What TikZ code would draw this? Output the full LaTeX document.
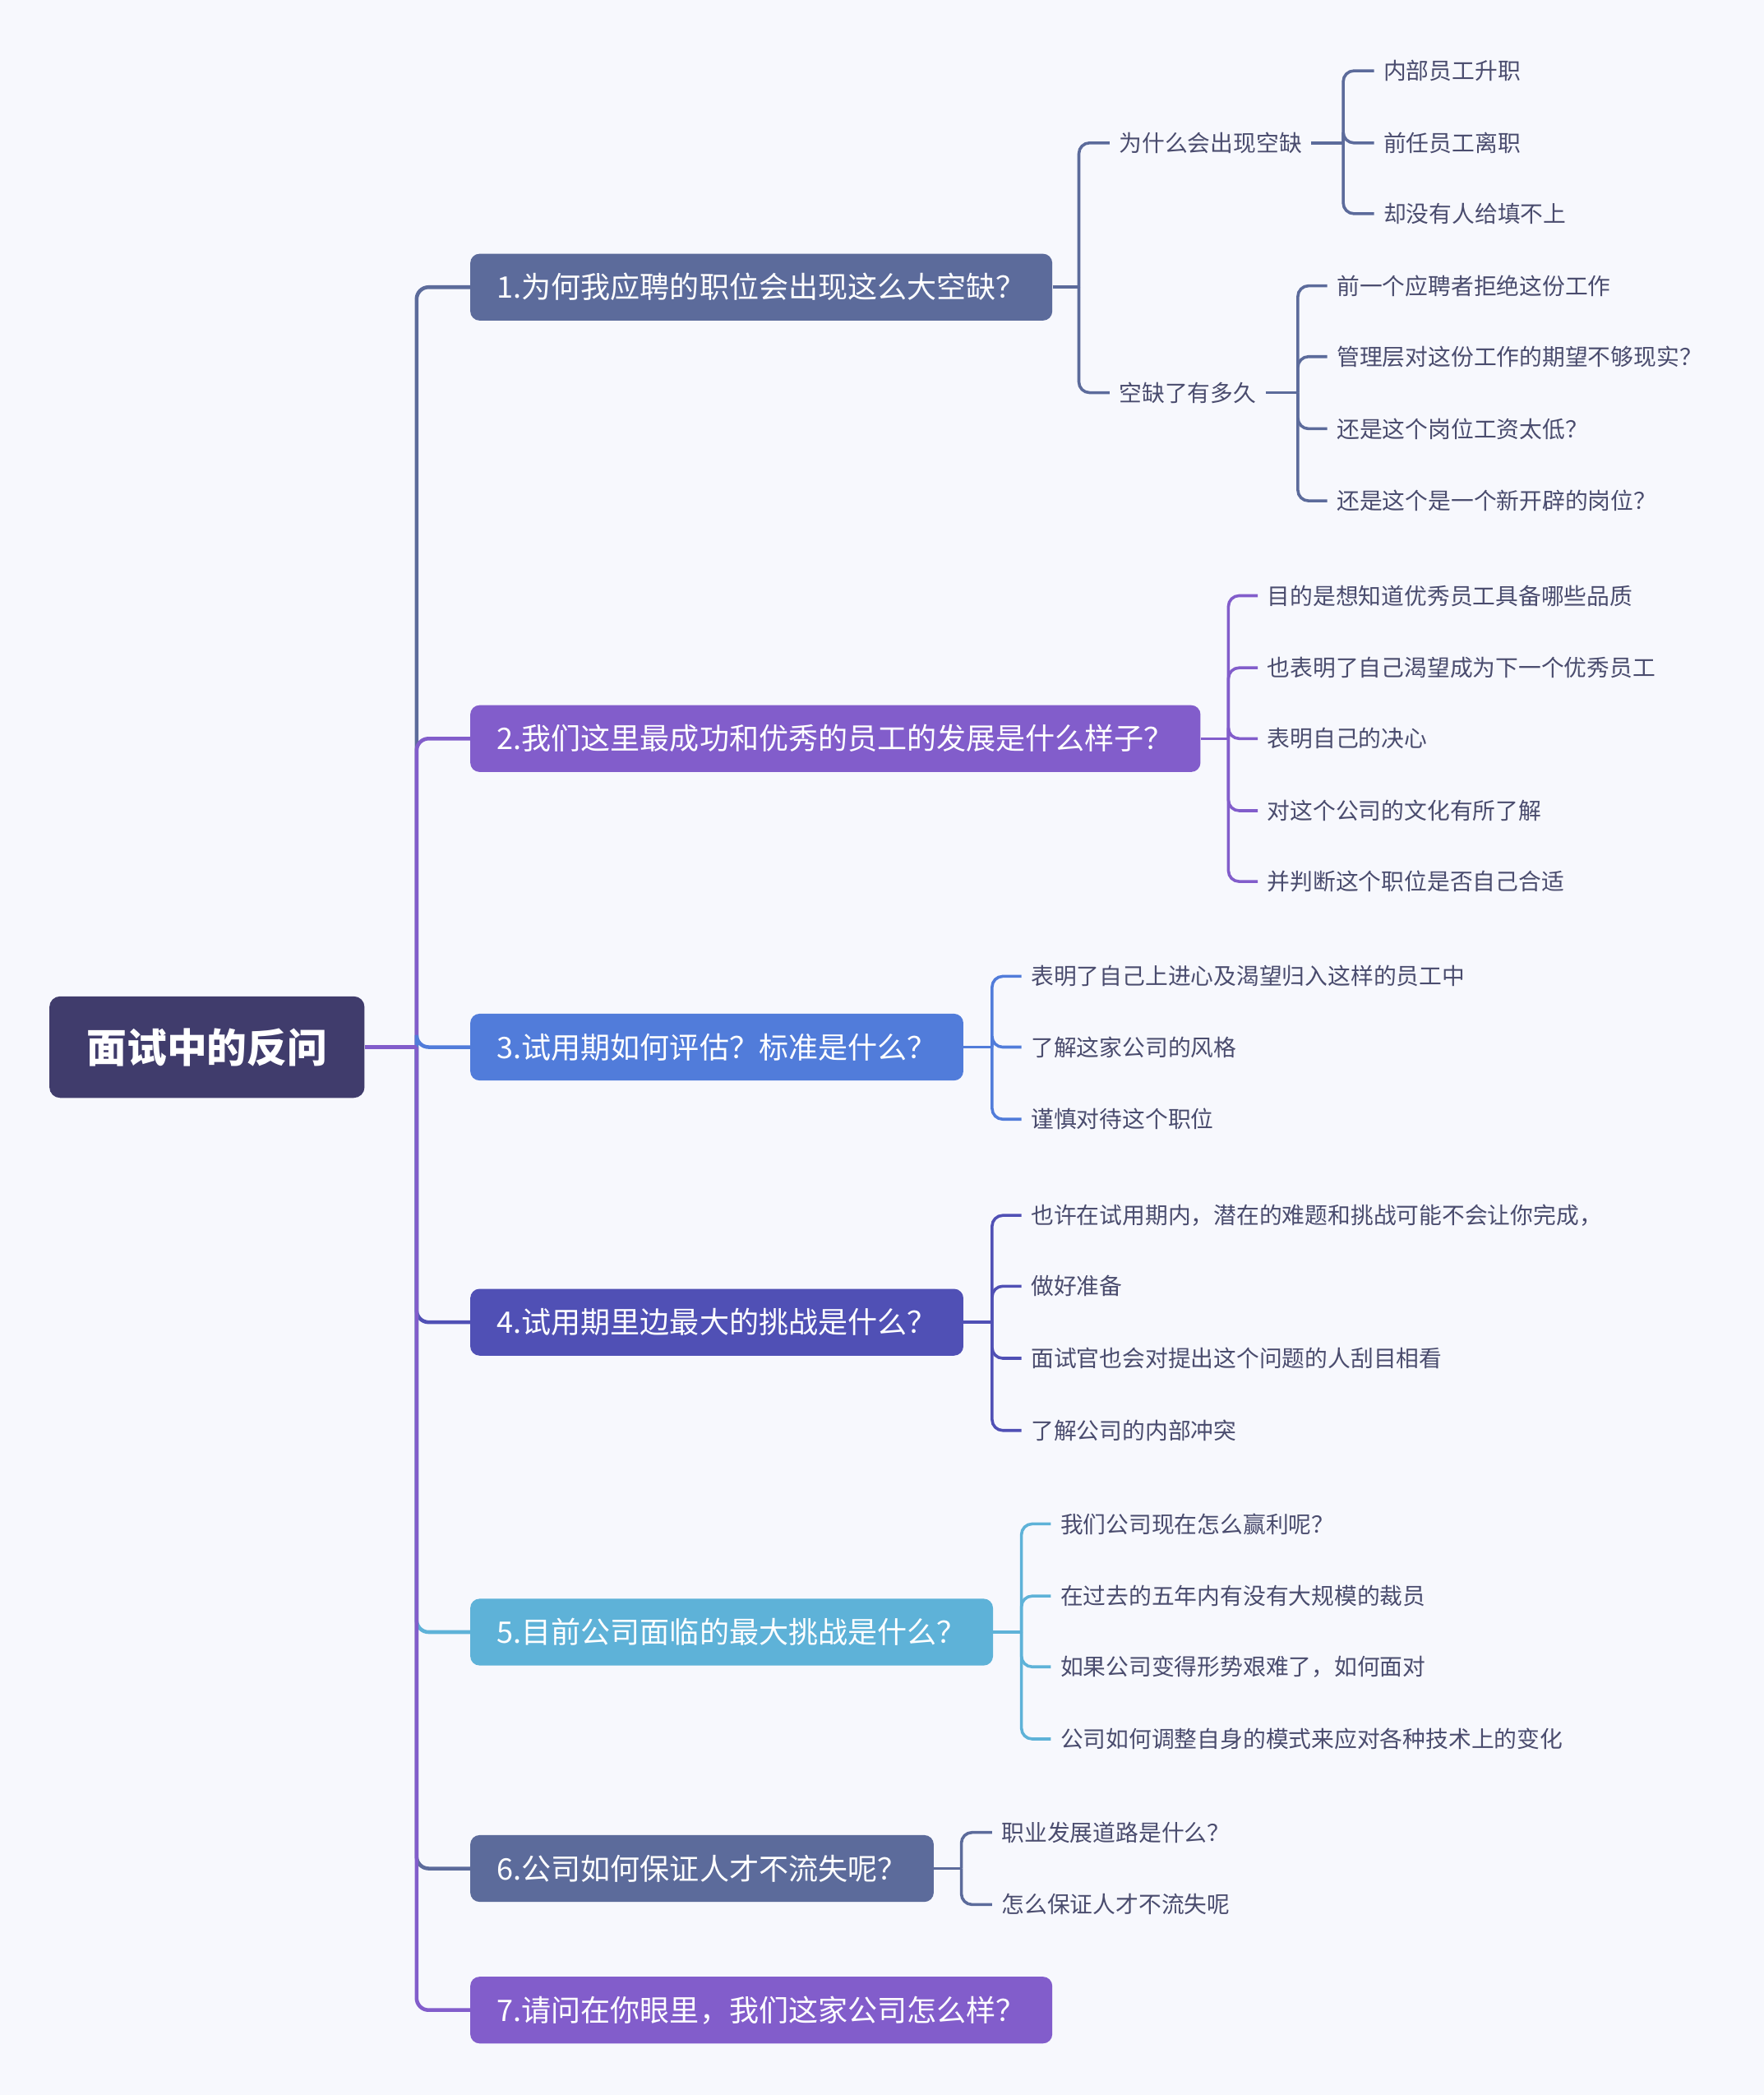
\documentclass[tikz,border=0pt]{standalone}
\usepackage{fontspec}
\newfontfamily\cjk{Noto Sans CJK SC}
\usetikzlibrary{positioning}
\definecolor{bgc}{HTML}{F7F8FD}
\definecolor{rootc}{HTML}{403C6C}
\definecolor{slatec}{HTML}{5C6B9B}
\definecolor{violetc}{HTML}{825DCB}
\definecolor{bluec}{HTML}{517CDA}
\definecolor{indigoc}{HTML}{5050B5}
\definecolor{cyanc}{HTML}{5EB2D8}
\definecolor{leafc}{HTML}{4A4C6E}
\tikzset{
    root/.style = {
        fill=rootc,
        text=white,
        rounded corners=8pt,
        minimum height=76pt,
        inner xsep=28pt,
        font=\cjk\bfseries\fontsize{30}{36}\selectfont
    },
    topic/.style = {
        rounded corners=7pt,
        text=white,
        minimum height=50pt,
        inner xsep=20pt,
        inner ysep=0pt,
        anchor=west,
        font=\cjk\fontsize{22.2}{26}\selectfont
    },
    leaf/.style = {
        text=leafc,
        inner xsep=7pt,
        inner ysep=2pt,
        anchor=west,
        font=\cjk\fontsize{17.1}{20}\selectfont
    },
    trunk/.style = {
        draw,
        line width=2.8pt,
        rounded corners=9pt
    },
    twig/.style = {
        draw,
        line width=2.2pt,
        rounded corners=8pt
    },
}
\begin{document}
\begin{tikzpicture}[x=1pt, y=-1pt]
    \useasboundingbox[fill=bgc] (0,0) rectangle (1321,1568.6);

    \node[root] (root) at (155,784) {面试中的反问};
    \coordinate (hub) at (312,784);

    \node[topic, fill=slatec] (q1) at (352,215) {1.为何我应聘的职位会出现这么大空缺？};
    \node[topic, fill=violetc] (q2) at (352,553) {2.我们这里最成功和优秀的员工的发展是什么样子？};
    \node[topic, fill=bluec] (q3) at (352,784) {3.试用期如何评估？标准是什么？};
    \node[topic, fill=indigoc] (q4) at (352,990) {4.试用期里边最大的挑战是什么？};
    \node[topic, fill=cyanc] (q5) at (352,1222) {5.目前公司面临的最大挑战是什么？};
    \node[topic, fill=slatec] (q6) at (352,1399) {6.公司如何保证人才不流失呢？};
    \node[topic, fill=violetc] (q7) at (352,1505) {7.请问在你眼里，我们这家公司怎么样？};

    % trunk
    \path[trunk, slatec] (hub) |- (q1.west);
    \path[trunk, violetc] (hub) |- (q2.west);
    \path[trunk, bluec] (hub) |- (q3.west);
    \path[trunk, indigoc] (hub) |- (q4.west);
    \path[trunk, cyanc] (hub) |- (q5.west);
    \path[trunk, slatec] (hub) |- (q6.west);
    \path[trunk, violetc] (hub) |- (q7.west);
    \path[trunk, violetc] (root.east) -- (hub);

    % 1
    \coordinate (j1) at (808,215);
    \node[leaf] (q1a) at (831,107) {为什么会出现空缺};
    \node[leaf] (q1b) at (831,294) {空缺了有多久};
    \path[twig, slatec] (q1.east) -- (j1);
    \path[twig, slatec] (j1) |- (q1a.west);
    \path[twig, slatec] (j1) |- (q1b.west);

    \coordinate (j1a) at (1006,107);
    \node[leaf] (q1a1) at (1029,53) {内部员工升职};
    \node[leaf] (q1a2) at (1029,107) {前任员工离职};
    \node[leaf] (q1a3) at (1029,160) {却没有人给填不上};
    \path[twig, slatec] (q1a.east) -- (j1a);
    \path[twig, slatec] (j1a) |- (q1a1.west);
    \path[twig, slatec] (j1a) |- (q1a2.west);
    \path[twig, slatec] (j1a) |- (q1a3.west);

    \coordinate (j1b) at (972,294);
    \node[leaf] (q1b1) at (994,214) {前一个应聘者拒绝这份工作};
    \node[leaf] (q1b2) at (994,267) {管理层对这份工作的期望不够现实？};
    \node[leaf] (q1b3) at (994,321) {还是这个岗位工资太低？};
    \node[leaf] (q1b4) at (994,375) {还是这个是一个新开辟的岗位？};
    \path[twig, slatec] (q1b.east) -- (j1b);
    \path[twig, slatec] (j1b) |- (q1b1.west);
    \path[twig, slatec] (j1b) |- (q1b2.west);
    \path[twig, slatec] (j1b) |- (q1b3.west);
    \path[twig, slatec] (j1b) |- (q1b4.west);

    % 2
    \coordinate (j2) at (920,553);
    \node[leaf] (q2a) at (942,446) {目的是想知道优秀员工具备哪些品质};
    \node[leaf] (q2b) at (942,500) {也表明了自己渴望成为下一个优秀员工};
    \node[leaf] (q2c) at (942,553) {表明自己的决心};
    \node[leaf] (q2d) at (942,607) {对这个公司的文化有所了解};
    \node[leaf] (q2e) at (942,660) {并判断这个职位是否自己合适};
    \path[twig, violetc] (q2.east) -- (j2);
    \path[twig, violetc] (j2) |- (q2a.west);
    \path[twig, violetc] (j2) |- (q2b.west);
    \path[twig, violetc] (j2) |- (q2c.west);
    \path[twig, violetc] (j2) |- (q2d.west);
    \path[twig, violetc] (j2) |- (q2e.west);

    % 3
    \coordinate (j3) at (743,784);
    \node[leaf] (q3a) at (765,731) {表明了自己上进心及渴望归入这样的员工中};
    \node[leaf] (q3b) at (765,784) {了解这家公司的风格};
    \node[leaf] (q3c) at (765,838) {谨慎对待这个职位};
    \path[twig, bluec] (q3.east) -- (j3);
    \path[twig, bluec] (j3) |- (q3a.west);
    \path[twig, bluec] (j3) |- (q3b.west);
    \path[twig, bluec] (j3) |- (q3c.west);

    % 4
    \coordinate (j4) at (743,990);
    \node[leaf] (q4a) at (765,910) {也许在试用期内，潜在的难题和挑战可能不会让你完成，};
    \node[leaf] (q4b) at (765,963) {做好准备};
    \node[leaf] (q4c) at (765,1017) {面试官也会对提出这个问题的人刮目相看};
    \node[leaf] (q4d) at (765,1071) {了解公司的内部冲突};
    \path[twig, indigoc] (q4.east) -- (j4);
    \path[twig, indigoc] (j4) |- (q4a.west);
    \path[twig, indigoc] (j4) |- (q4b.west);
    \path[twig, indigoc] (j4) |- (q4c.west);
    \path[twig, indigoc] (j4) |- (q4d.west);

    % 5
    \coordinate (j5) at (765,1222);
    \node[leaf] (q5a) at (787,1141) {我们公司现在怎么赢利呢？};
    \node[leaf] (q5b) at (787,1195) {在过去的五年内有没有大规模的裁员};
    \node[leaf] (q5c) at (787,1248) {如果公司变得形势艰难了，如何面对};
    \node[leaf] (q5d) at (787,1302) {公司如何调整自身的模式来应对各种技术上的变化};
    \path[twig, cyanc] (q5.east) -- (j5);
    \path[twig, cyanc] (j5) |- (q5a.west);
    \path[twig, cyanc] (j5) |- (q5b.west);
    \path[twig, cyanc] (j5) |- (q5c.west);
    \path[twig, cyanc] (j5) |- (q5d.west);

    % 6
    \coordinate (j6) at (720,1399);
    \node[leaf] (q6a) at (743,1372) {职业发展道路是什么？};
    \node[leaf] (q6b) at (743,1426) {怎么保证人才不流失呢};
    \path[twig, slatec] (q6.east) -- (j6);
    \path[twig, slatec] (j6) |- (q6a.west);
    \path[twig, slatec] (j6) |- (q6b.west);
\end{tikzpicture}
\end{document}
